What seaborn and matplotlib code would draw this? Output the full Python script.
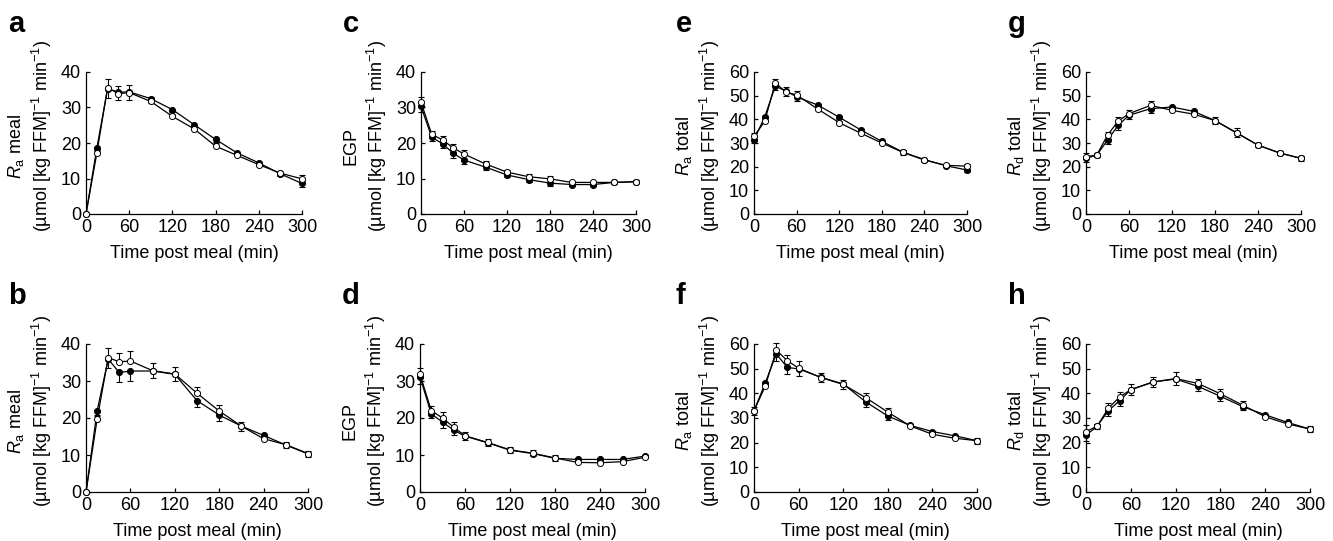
import pandas as pd
import numpy as np
import matplotlib
matplotlib.use("Agg")
import matplotlib.pyplot as plt
import seaborn as sns

W, H = 1333, 541

TIME = [0, 15, 30, 45, 60, 90, 120, 150, 180, 210, 240, 270, 300]

A_FILLED = [0, 18.5, 35.3, 34.3, 34.4, 32.5, 29.4, 25.2, 21.0, 17.2, 14.4, 11.3, 8.6]
A_OPEN = [0, 17.1, 35.6, 33.9, 34.2, 31.7, 27.5, 24.0, 19.1, 16.5, 13.9, 11.5, 9.9]
A_SEM = [0, 0.8, 2.5, 2.2, 2.2, 1.2, 0.6, 0.6, 0.8, 0.6, 0.6, 0.6, 1.0]

B_FILLED = [0, 21.9, 35.9, 32.3, 32.7, 32.7, 31.8, 24.7, 20.8, 17.8, 15.3, 12.7, 10.3]
B_OPEN = [0, 19.6, 36.3, 35.2, 35.4, 32.8, 31.9, 26.7, 21.9, 17.8, 14.4, 12.8, 10.4]
B_SEM = [0, 1.0, 2.5, 2.5, 2.8, 2.0, 1.8, 1.7, 1.5, 1.2, 0.6, 0.7, 0.8]

C_FILLED = [30.3, 21.6, 19.8, 17.1, 15.2, 13.2, 11.0, 9.7, 8.7, 8.3, 8.3, 8.9, 9.1]
C_OPEN = [31.5, 22.4, 20.9, 18.6, 16.9, 14.1, 11.8, 10.5, 9.9, 8.9, 8.9, 8.9, 9.1]
C_SEM = [1.5, 1.0, 1.2, 1.2, 1.0, 0.9, 0.7, 0.7, 0.7, 0.5, 0.4, 0.4, 0.4]

D_FILLED = [31.1, 21.1, 18.9, 16.7, 15.1, 13.3, 11.3, 10.4, 9.1, 8.8, 8.8, 8.8, 9.7]
D_OPEN = [31.8, 22.0, 20.0, 17.5, 15.2, 13.4, 11.4, 10.5, 9.2, 8.0, 7.9, 8.2, 9.4]
D_SEM = [1.8, 1.2, 1.5, 1.3, 1.0, 1.0, 0.8, 0.8, 0.7, 0.5, 0.5, 0.5, 0.5]

E_FILLED = [31.4, 40.9, 54.0, 52.0, 49.5, 46.0, 40.9, 35.6, 30.7, 26.1, 23.0, 20.4, 18.6]
E_OPEN = [32.8, 39.1, 55.4, 51.5, 50.3, 44.3, 38.6, 34.2, 30.0, 26.0, 22.8, 20.6, 20.2]
E_SEM = [1.5, 0.8, 1.8, 2.0, 1.8, 0.8, 0.8, 0.8, 0.8, 1.2, 0.6, 0.6, 1.0]

F_FILLED = [32.9, 44.1, 55.9, 50.5, 49.9, 46.5, 43.8, 36.6, 30.8, 27.0, 24.5, 22.8, 20.8]
F_OPEN = [32.9, 42.8, 57.5, 53.2, 50.2, 46.4, 43.6, 38.3, 32.4, 26.8, 23.4, 21.8, 20.8]
F_SEM = [1.5, 1.0, 2.8, 2.5, 2.8, 2.0, 2.0, 2.0, 1.5, 0.8, 0.8, 0.8, 1.2]

G_FILLED = [23.5, 24.9, 31.2, 37.5, 41.7, 44.5, 45.2, 43.4, 39.5, 34.2, 29.1, 25.8, 23.5]
G_OPEN = [24.2, 24.9, 33.3, 39.3, 42.4, 45.9, 43.8, 42.2, 39.5, 34.4, 29.1, 25.8, 23.5]
G_SEM = [1.5, 0.8, 1.5, 1.8, 1.5, 2.0, 0.8, 0.8, 1.5, 1.8, 0.8, 0.8, 1.2]

H_FILLED = [23.0, 26.7, 33.0, 37.0, 41.5, 44.6, 45.8, 42.8, 38.8, 34.6, 31.3, 28.2, 25.5]
H_OPEN = [24.5, 26.7, 34.0, 38.5, 41.5, 44.6, 46.0, 44.0, 39.8, 35.2, 30.5, 27.6, 25.5]
H_SEM = [2.5, 1.0, 2.0, 2.2, 2.2, 2.2, 2.5, 2.0, 1.8, 1.5, 0.8, 0.8, 1.2]

UNIT = "(\u00b5mol [kg FFM]$^{-1}$ min$^{-1}$)"
XLABEL = "Time post meal (min)"

# letter, filled, open, sem, ylabel, ymax, (left, top, width, height) in pixels
PANELS = [
    ("a", A_FILLED, A_OPEN, A_SEM, r"$R_\mathrm{a}$ meal", 40, (86, 72, 216, 142)),
    ("c", C_FILLED, C_OPEN, C_SEM, "EGP", 40, (421, 72, 215, 142)),
    ("e", E_FILLED, E_OPEN, E_SEM, r"$R_\mathrm{a}$ total", 60, (754, 72, 213, 142)),
    ("g", G_FILLED, G_OPEN, G_SEM, r"$R_\mathrm{d}$ total", 60, (1086, 72, 215, 142)),
    ("b", B_FILLED, B_OPEN, B_SEM, r"$R_\mathrm{a}$ meal", 40, (86, 344, 222, 148)),
    ("d", D_FILLED, D_OPEN, D_SEM, "EGP", 40, (420, 344, 225, 148)),
    ("f", F_FILLED, F_OPEN, F_SEM, r"$R_\mathrm{a}$ total", 60, (754, 344, 223, 148)),
    ("h", H_FILLED, H_OPEN, H_SEM, r"$R_\mathrm{d}$ total", 60, (1086, 344, 224, 148)),
]

sns.set_style("ticks")
plt.rcParams["font.family"] = ["Liberation Sans", "DejaVu Sans"]
plt.rcParams["mathtext.fontset"] = "custom"
plt.rcParams["mathtext.rm"] = "Liberation Sans"
plt.rcParams["mathtext.it"] = "Liberation Sans:italic"
plt.rcParams["mathtext.bf"] = "Liberation Sans:bold"
plt.rcParams["text.color"] = "black"
plt.rcParams["axes.labelcolor"] = "black"
plt.rcParams["axes.edgecolor"] = "black"
plt.rcParams["xtick.color"] = "black"
plt.rcParams["ytick.color"] = "black"
plt.rcParams["axes.linewidth"] = 0.9
plt.rcParams["xtick.direction"] = "in"
plt.rcParams["ytick.direction"] = "in"

fig = plt.figure(figsize=(W / 100, H / 100), dpi=100)

for letter, filled, opn, sem, ylab, ymax, (l, t, w, h) in PANELS:
    ax = fig.add_axes([l / W, 1 - (t + h) / H, w / W, h / H])
    df = pd.DataFrame({"time": TIME, "filled": filled, "open": opn, "sem": sem})
    zeros = np.zeros(len(TIME))

    # error bars: filled series downwards, open series upwards
    ax.errorbar(df["time"], df["filled"], yerr=[df["sem"], zeros], fmt="none",
                ecolor="black", elinewidth=0.8, capsize=2.5, capthick=0.8, clip_on=False, zorder=2)
    ax.errorbar(df["time"], df["open"], yerr=[zeros, df["sem"]], fmt="none",
                ecolor="black", elinewidth=0.8, capsize=2.5, capthick=0.8, clip_on=False, zorder=2)

    sns.lineplot(data=df, x="time", y="filled", ax=ax, color="black", lw=0.9,
                 marker="o", markersize=4.4, markerfacecolor="black", markeredgecolor="black",
                 markeredgewidth=0.7, clip_on=False, zorder=3)
    sns.lineplot(data=df, x="time", y="open", ax=ax, color="black", lw=0.9,
                 marker="o", markersize=4.4, markerfacecolor="white", markeredgecolor="black",
                 markeredgewidth=0.7, clip_on=False, zorder=4)

    ax.set_xlim(0, 300)
    ax.set_ylim(0, ymax)
    ax.set_xticks([0, 60, 120, 180, 240, 300])
    ax.set_yticks(np.arange(0, ymax + 1, 10))
    ax.tick_params(axis="both", labelsize=13, length=3, width=0.9, pad=3.5)
    ax.set_xlabel(XLABEL, fontsize=13, labelpad=6.5)
    ax.set_ylabel("")
    sns.despine(ax=ax)

    yc = t + h / 2
    fig.text((l - 70) / W, 1 - (yc + 3) / H, ylab, rotation=90, ha="center", va="center", fontsize=13)
    fig.text((l - 44) / W, 1 - (yc - 7) / H, UNIT, rotation=90, ha="center", va="center", fontsize=13)
    fig.text((l - 78) / W, 1 - (t - 40) / H, letter, ha="left", va="baseline",
             fontsize=21, fontweight="bold")

fig.savefig("out.png", dpi=100)
